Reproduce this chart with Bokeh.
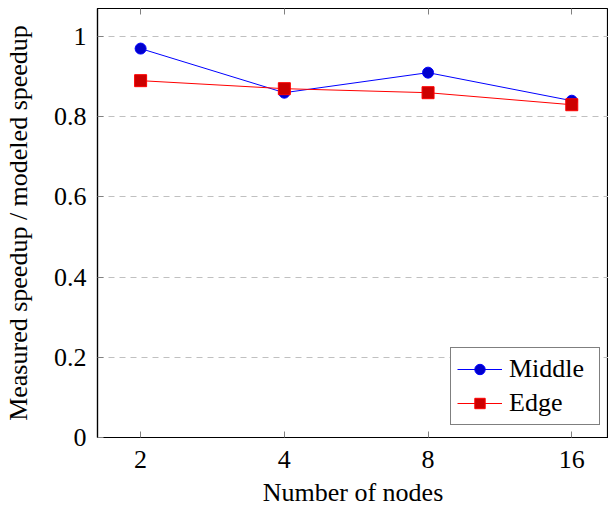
from bokeh.plotting import figure
from bokeh.models import FixedTicker, Range1d, Legend, LegendItem, LogAxis
from bokeh.embed import file_html
from bokeh.resources import INLINE

nodes = [2, 4, 8, 16]
x_tick_labels = ["2", "4", "8", "16"]
middle = [0.97, 0.86, 0.91, 0.84]
edge = [0.89, 0.87, 0.86, 0.83]
y_ticks = [0, 0.2, 0.4, 0.6, 0.8, 1.0]
y_tick_labels = ["0", "0.2", "0.4", "0.6", "0.8", "1"]

FONT = "'Liberation Serif', 'Times New Roman', serif"
FS = "26px"

p = figure(width=608, height=509, output_backend="svg", toolbar_location=None,
           x_axis_type="log",
           x_range=Range1d(2 ** 0.7, 2 ** 4.2556), y_range=Range1d(0, 1.07),
           min_border_left=96, min_border_right=0, min_border_top=8,
           min_border_bottom=71)

p.outline_line_color = "black"
p.outline_line_width = 1.2
p.background_fill_color = "white"
p.border_fill_color = "white"

p.xgrid.grid_line_color = None
p.ygrid.ticker = FixedTicker(ticks=y_ticks)
p.ygrid.grid_line_color = "#c0c0c0"
p.ygrid.grid_line_dash = "6 5"
p.ygrid.grid_line_width = 1

p.xaxis.ticker = FixedTicker(ticks=nodes)
p.xaxis.major_label_overrides = {n: l for n, l in zip(nodes, x_tick_labels)}
p.yaxis.ticker = FixedTicker(ticks=y_ticks)
p.yaxis.major_label_overrides = {t: l for t, l in zip(y_ticks, y_tick_labels)}

for ax in (p.xaxis[0], p.yaxis[0]):
    ax.major_tick_in = 6
    ax.major_tick_out = 0
    ax.minor_tick_line_color = None
    ax.major_tick_line_color = "#808080"
    ax.axis_line_color = "black"
    ax.axis_line_width = 1.2
    ax.major_label_text_font = FONT
    ax.major_label_text_font_size = FS
    ax.major_label_text_color = "black"
    ax.axis_label_text_font = FONT
    ax.axis_label_text_font_size = FS
    ax.axis_label_text_font_style = "normal"
    ax.axis_label_text_color = "black"

p.xaxis.axis_label = "Number of nodes"
p.xaxis.major_label_standoff = 13
p.xaxis.axis_label_standoff = 7
p.yaxis.axis_label = "Measured speedup / modeled speedup"
p.yaxis.major_label_standoff = 11
p.yaxis.axis_label_standoff = 18

# ticks along the top edge, pointing inward, no labels
top = LogAxis(ticker=FixedTicker(ticks=nodes),
              major_label_overrides={n: "" for n in nodes},
              major_label_text_font_size="0px", major_label_standoff=0,
              major_tick_in=6, major_tick_out=0, minor_tick_line_color=None,
              major_tick_line_color="#808080", axis_line_color=None)
p.add_layout(top, "above")

l1 = p.line(nodes, middle, line_color="#0000ff", line_width=1)
s1 = p.scatter(nodes, middle, marker="circle", size=11,
               fill_color="#0000cc", line_color="#0000ff", line_width=1)
l2 = p.line(nodes, edge, line_color="#ff0000", line_width=1)
s2 = p.scatter(nodes, edge, marker="square", size=12,
               fill_color="#cc0000", line_color="#ff0000", line_width=1)

legend = Legend(items=[LegendItem(label="Middle", renderers=[l1, s1]),
                       LegendItem(label="Edge", renderers=[l2, s2])],
                location=(353, 12))
legend.label_text_font = FONT
legend.label_text_font_size = FS
legend.label_text_color = "black"
legend.glyph_width = 45
legend.glyph_height = 26
legend.label_standoff = 7
legend.label_width = 84
legend.spacing = 4
legend.padding = 6
legend.margin = 0
legend.border_line_color = "black"
legend.border_line_width = 1.2
legend.background_fill_alpha = 1
p.add_layout(legend)

open("out.html", "w").write(file_html(p, INLINE))
